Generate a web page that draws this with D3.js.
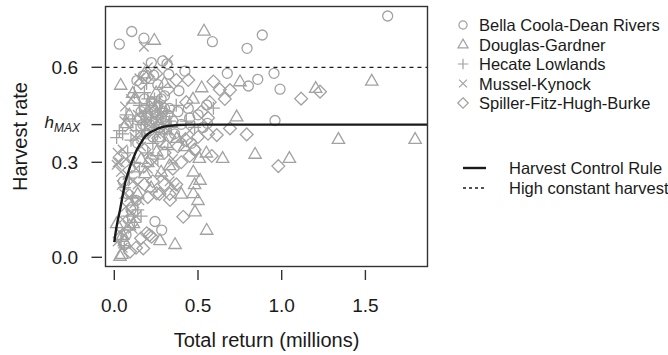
<!DOCTYPE html>
<html>
<head>
<meta charset="utf-8">
<script src="https://cdn.jsdelivr.net/npm/d3@7"></script>
<style>
  html, body { margin: 0; padding: 0; background: #fff; }
  svg { display: block; font-family: "Liberation Sans", Arial, sans-serif; }
</style>
</head>
<body>
<svg id="chart" width="668" height="355"></svg>
<script>
// ---- data ----
const bellaCoola = [
  [1.633,0.762],[0.104,0.713],[0.030,0.673],[0.177,0.692],[0.586,0.681],[0.884,0.702],
  [0.793,0.660],[0.221,0.615],[0.289,0.620],[0.422,0.588],[0.675,0.581],[0.954,0.581],
  [0.857,0.562],[0.801,0.541],[0.990,0.531],[0.386,0.526],[0.960,0.432],[0.442,0.470],
  [0.552,0.481],[0.556,0.423],[0.482,0.339],[0.243,0.113],[0.283,0.086],[0.070,0.071],
  [0.173,0.573],[0.235,0.575],[0.135,0.558],[0.315,0.611],[0.325,0.578],[0.260,0.545],
  [0.300,0.510],[0.054,0.239],[0.18,0.47],[0.20,0.45],[0.22,0.49],[0.24,0.46],[0.26,0.48],
  [0.28,0.44],[0.30,0.47],[0.15,0.44],[0.17,0.42],[0.21,0.42],[0.25,0.43],[0.27,0.41],
  [0.32,0.45],[0.35,0.43],[0.38,0.46],[0.40,0.42],[0.45,0.44],[0.50,0.45],[0.53,0.41],
  [0.19,0.39],[0.23,0.38],[0.14,0.36],[0.36,0.39],[0.46,0.36],[0.08,0.20],[0.10,0.15],
  [0.13,0.18],[0.06,0.04],[0.16,0.46],[0.19,0.44],[0.23,0.47],[0.25,0.45],[0.29,0.46],
  [0.31,0.43],[0.21,0.40],[0.27,0.38],[0.33,0.47],[0.18,0.50],[0.28,0.50]
];
const douglasGardner = [
  [0.536,0.715],[0.239,0.686],[1.538,0.557],[1.339,0.373],[1.797,0.373],[0.841,0.326],
  [1.046,0.313],[0.647,0.313],[0.508,0.313],[0.522,0.536],[0.751,0.555],[0.731,0.444],
  [1.203,0.534],[0.038,0.544],[0.110,0.518],[0.074,0.423],[0.552,0.086],[0.363,0.041],
  [0.273,0.053],[0.034,0.004],[0.045,0.010],[0.482,0.144],[0.472,0.202],[0.472,0.270],
  [0.512,0.244],[0.373,0.376],[0.253,0.334],[0.183,0.265],[0.114,0.107],[0.014,0.107],
  [0.06,0.05],[0.09,0.10],[0.14,0.20],[0.16,0.31],[0.20,0.30],[0.31,0.36],[0.42,0.35],
  [0.55,0.33],[0.30,0.55],[0.47,0.50],[0.33,0.29],[0.28,0.27],[0.22,0.22],[0.40,0.20],
  [0.48,0.23],[0.50,0.18],[0.12,0.50],[0.09,0.45],[0.25,0.52],[0.18,0.58],[0.05,0.07]
];
const hecateLowlands = [
  [0.014,0.378],[0.193,0.549],[0.592,0.471],[0.18,0.52],[0.12,0.52],[0.07,0.45],[0.11,0.43],
  [0.15,0.48],[0.20,0.50],[0.24,0.50],[0.27,0.49],[0.22,0.44],[0.26,0.45],[0.29,0.42],
  [0.13,0.40],[0.17,0.38],[0.10,0.37],[0.05,0.39],[0.03,0.40],[0.23,0.36],[0.30,0.39],
  [0.34,0.41],[0.37,0.48],[0.43,0.43],[0.48,0.41],[0.08,0.33],[0.12,0.30],[0.15,0.27],
  [0.09,0.25],[0.06,0.22],[0.11,0.19],[0.14,0.15],[0.08,0.13],[0.12,0.11],[0.16,0.13],
  [0.20,0.33],[0.26,0.31],[0.32,0.34],[0.04,0.05],[0.06,0.03],[0.16,0.42],[0.19,0.46],
  [0.21,0.48],[0.25,0.41],[0.28,0.47],[0.31,0.46],[0.18,0.40],[0.33,0.43]
];
const musselKynock = [
  [0.177,0.665],[0.323,0.623],[0.014,0.292],[0.064,0.476],[0.044,0.228],[0.20,0.60],
  [0.15,0.565],[0.10,0.50],[0.06,0.43],[0.09,0.41],[0.14,0.45],[0.18,0.43],[0.22,0.47],
  [0.26,0.43],[0.30,0.42],[0.12,0.38],[0.16,0.35],[0.05,0.34],[0.03,0.30],[0.07,0.31],
  [0.10,0.30],[0.13,0.28],[0.04,0.27],[0.08,0.26],[0.11,0.24],[0.14,0.23],[0.06,0.20],
  [0.09,0.19],[0.12,0.17],[0.15,0.18],[0.07,0.16],[0.10,0.14],[0.13,0.13],[0.05,0.12],
  [0.08,0.10],[0.11,0.09],[0.03,0.08],[0.06,0.07],[0.20,0.28],[0.24,0.30],[0.28,0.26],
  [0.33,0.24],[0.35,0.31],[0.25,0.39],[0.19,0.41],[0.45,0.40],[0.40,0.38],[0.02,0.05],
  [0.05,0.03],[0.36,0.22],[0.17,0.46],[0.21,0.43],[0.24,0.48],[0.27,0.45],[0.29,0.40],
  [0.16,0.39],[0.23,0.42],[0.32,0.40],[0.02,0.33],[0.02,0.30]
];
const spillerFitzHughBurke = [
  [1.116,0.501],[1.229,0.523],[0.980,0.288],[0.791,0.388],[0.691,0.407],[0.612,0.386],
  [0.582,0.320],[0.691,0.528],[0.63,0.53],[0.592,0.555],[0.442,0.56],[0.37,0.56],[0.32,0.53],
  [0.412,0.128],[0.333,0.181],[0.253,0.202],[0.173,0.028],[0.094,0.018],[0.193,0.076],
  [0.223,0.065],[0.20,0.57],[0.16,0.55],[0.25,0.58],[0.43,0.49],[0.50,0.38],[0.45,0.32],
  [0.40,0.30],[0.35,0.28],[0.30,0.33],[0.27,0.37],[0.33,0.38],[0.38,0.35],[0.43,0.37],
  [0.48,0.34],[0.30,0.23],[0.27,0.20],[0.23,0.24],[0.33,0.20],[0.37,0.23],[0.20,0.19],
  [0.18,0.23],[0.22,0.31],[0.18,0.34],[0.21,0.07],[0.13,0.03],[0.16,0.06],[0.56,0.44],
  [0.52,0.46],[0.57,0.49],[0.66,0.50],[0.56,0.39]
];

const groups = [
  { name: "Bella Coola-Dean Rivers", shape: "circle", pts: bellaCoola },
  { name: "Douglas-Gardner", shape: "triangle", pts: douglasGardner },
  { name: "Hecate Lowlands", shape: "plus", pts: hecateLowlands },
  { name: "Mussel-Kynock", shape: "cross", pts: musselKynock },
  { name: "Spiller-Fitz-Hugh-Burke", shape: "diamond", pts: spillerFitzHughBurke }
];

// harvest control rule
const hcrCurve = [
  [0.0,0.048],[0.01,0.085],[0.02,0.115],[0.034,0.149],[0.05,0.195],[0.064,0.234],
  [0.08,0.262],[0.094,0.286],[0.115,0.315],[0.134,0.339],[0.16,0.362],[0.183,0.381],
  [0.21,0.393],[0.243,0.402],[0.28,0.41],[0.323,0.415],[0.38,0.418],[0.442,0.419],
  [1.95,0.419]
];
const hMax = 0.419;
const highConstant = 0.6;

const xTicks = [0, 0.5, 1.0, 1.5];
const yTicks = [0, 0.3, 0.6];

// ---- layout ----
const svg = d3.select("#chart");
const box = { left: 105.5, right: 427.5, top: 6.5, bottom: 266.5 };

const x = d3.scaleLinear().domain([0, 1]).range([114.3, 281.7]);
const y = d3.scaleLinear().domain([0, 0.6]).range([257.3, 67.3]);

const gray = "#a2a2a2";
const ink = "#1a1a1a";

svg.append("clipPath").attr("id", "plotclip")
  .append("rect")
  .attr("x", box.left).attr("y", box.top)
  .attr("width", box.right - box.left).attr("height", box.bottom - box.top);

function shapePath(shape, s) {
  const p = d3.path();
  if (shape === "circle") {
    p.moveTo(s * 5, 0);
    p.arc(0, 0, s * 5, 0, Math.PI * 2);
  } else if (shape === "triangle") {
    p.moveTo(0, -s * 6.6); p.lineTo(s * 6.2, s * 4.2); p.lineTo(-s * 6.2, s * 4.2); p.closePath();
  } else if (shape === "plus") {
    p.moveTo(-s * 6.5, 0); p.lineTo(s * 6.5, 0); p.moveTo(0, -s * 6.5); p.lineTo(0, s * 6.5);
  } else if (shape === "cross") {
    const a = s * 4.8;
    p.moveTo(-a, -a); p.lineTo(a, a); p.moveTo(-a, a); p.lineTo(a, -a);
  } else if (shape === "diamond") {
    const a = s * 6.4;
    p.moveTo(0, -a); p.lineTo(a, 0); p.lineTo(0, a); p.lineTo(-a, 0); p.closePath();
  }
  return p.toString();
}

// points
const pointsG = svg.append("g").attr("clip-path", "url(#plotclip)");
groups.forEach((grp) => {
  pointsG.append("g")
    .selectAll("path")
    .data(grp.pts)
    .join("path")
    .attr("transform", (d) => `translate(${x(d[0])},${y(d[1])})`)
    .attr("d", shapePath(grp.shape, 1))
    .attr("fill", "none")
    .attr("stroke", gray)
    .attr("stroke-width", 1.3);
});

// reference lines
const linesG = svg.append("g").attr("clip-path", "url(#plotclip)");
linesG.append("line")
  .attr("x1", box.left).attr("x2", box.right)
  .attr("y1", y(highConstant)).attr("y2", y(highConstant))
  .attr("stroke", ink).attr("stroke-width", 1.3)
  .attr("stroke-dasharray", "4,4");

linesG.append("path")
  .datum(hcrCurve)
  .attr("d", d3.line().x((d) => x(d[0])).y((d) => y(d[1])).curve(d3.curveMonotoneX))
  .attr("fill", "none")
  .attr("stroke", ink)
  .attr("stroke-width", 2.4);

// box
svg.append("rect")
  .attr("x", box.left).attr("y", box.top)
  .attr("width", box.right - box.left).attr("height", box.bottom - box.top)
  .attr("fill", "none").attr("stroke", "#333").attr("stroke-width", 1.4);

// x axis
const xAxisG = svg.append("g");
xAxisG.selectAll("line").data(xTicks).join("line")
  .attr("x1", (d) => x(d)).attr("x2", (d) => x(d))
  .attr("y1", 270).attr("y2", 280)
  .attr("stroke", "#333").attr("stroke-width", 1.4);
xAxisG.selectAll("text").data(xTicks).join("text")
  .attr("x", (d) => x(d)).attr("y", 312)
  .attr("text-anchor", "middle")
  .attr("font-size", 19).attr("fill", ink)
  .text((d) => d3.format(".1f")(d));

// y axis
const yAxisG = svg.append("g");
const yTickVals = yTicks.concat([hMax]);
yAxisG.selectAll("line").data(yTickVals).join("line")
  .attr("x1", 91.5).attr("x2", 102)
  .attr("y1", (d) => y(d)).attr("y2", (d) => y(d))
  .attr("stroke", "#333").attr("stroke-width", 1.4);
yAxisG.selectAll("text.tick").data(yTicks).join("text")
  .attr("class", "tick")
  .attr("x", 78).attr("y", (d) => y(d) + 7)
  .attr("text-anchor", "end")
  .attr("font-size", 19).attr("fill", ink)
  .text((d) => d3.format(".1f")(d));

const hText = yAxisG.append("text")
  .attr("x", 80).attr("y", y(hMax) + 3)
  .attr("text-anchor", "end")
  .attr("fill", ink)
  .attr("font-style", "italic");
hText.append("tspan").attr("font-size", 17).text("h");
hText.append("tspan").attr("font-size", 12).attr("dy", 4).text("MAX");

// axis titles
svg.append("text")
  .attr("x", (box.left + box.right) / 2).attr("y", 347)
  .attr("text-anchor", "middle")
  .attr("font-size", 20).attr("fill", ink)
  .text("Total return (millions)");

svg.append("text")
  .attr("transform", `translate(27,${(box.top + box.bottom) / 2}) rotate(-90)`)
  .attr("text-anchor", "middle")
  .attr("font-size", 20).attr("fill", ink)
  .text("Harvest rate");

// legend: groups
const legendG = svg.append("g");
groups.forEach((grp, i) => {
  const cy = 25 + i * 19.5;
  legendG.append("path")
    .attr("transform", `translate(463,${cy})`)
    .attr("d", shapePath(grp.shape, 0.82))
    .attr("fill", "none").attr("stroke", gray).attr("stroke-width", 1.2);
  legendG.append("text")
    .attr("x", 479).attr("y", cy + 6)
    .attr("font-size", 16.5).attr("fill", ink)
    .text(grp.name);
});

// legend: lines
const lineLegend = [
  { name: "Harvest Control Rule", dash: null, w: 2.4 },
  { name: "High constant harvest", dash: "3,3", w: 1.3 }
];
lineLegend.forEach((d, i) => {
  const cy = 168 + i * 20;
  legendG.append("line")
    .attr("x1", 463).attr("x2", 486)
    .attr("y1", cy).attr("y2", cy)
    .attr("stroke", ink).attr("stroke-width", d.w)
    .attr("stroke-dasharray", d.dash);
  legendG.append("text")
    .attr("x", 509).attr("y", cy + 6)
    .attr("font-size", 16.5).attr("fill", ink)
    .text(d.name);
});
</script>
</body>
</html>
